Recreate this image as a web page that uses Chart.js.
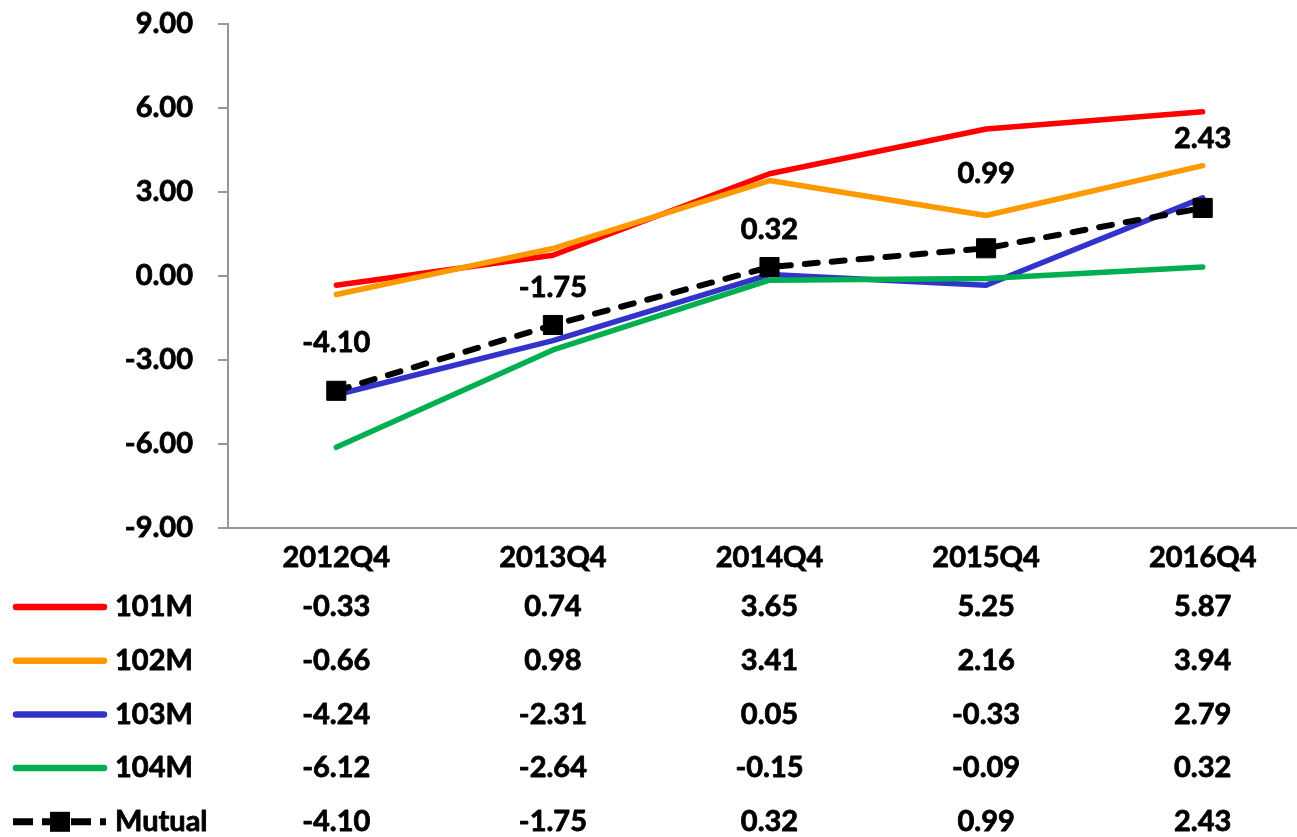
<!DOCTYPE html>
<html>
<head>
<meta charset="utf-8">
<script src="https://cdn.jsdelivr.net/npm/chart.js@4"></script>
<style>
  html, body { margin: 0; padding: 0; overflow: hidden; background: #fff; }
  canvas { display: block; }
</style>
</head>
<body>
<canvas id="chart" width="1320" height="837"></canvas>
<script>
const quarters = ['2012Q4', '2013Q4', '2014Q4', '2015Q4', '2016Q4']
const series101M = [-0.33, 0.74, 3.65, 5.25, 5.87]
const series102M = [-0.66, 0.98, 3.41, 2.16, 3.94]
const series103M = [-4.24, -2.31, 0.05, -0.33, 2.79]
const series104M = [-6.12, -2.64, -0.15, -0.09, 0.32]
const seriesMutual = [-4.10, -1.75, 0.32, 0.99, 2.43]
const yMin = -9
const yMax = 9
const yStep = 3

const FAMILY = 'Lato, "Open Sans", sans-serif'
const FONT = 'bold 29px ' + FAMILY
const AXIS_GRAY = '#969696'
// how far above each Mutual point its label sits (px)
const labelLift = [48, 37, 37, 75, 69]

const lineSet = (label, data, color, order) => ({
  label,
  data,
  borderColor: color,
  backgroundColor: color,
  borderWidth: 5.5,
  borderCapStyle: 'round',
  borderJoinStyle: 'round',
  pointRadius: 0,
  tension: 0,
  order,
})

const mutualSet = {
  label: 'Mutual',
  data: seriesMutual,
  borderColor: '#000',
  backgroundColor: '#000',
  borderWidth: 6,
  borderDash: [13, 14],
  borderCapStyle: 'round',
  pointStyle: 'rect',
  pointRadius: 13.5,
  pointBorderWidth: 1,
  pointBorderColor: '#000',
  pointBackgroundColor: '#000',
  tension: 0,
  order: 1,
}

// bold text with a hairline stroke so it reads as heavy as the original
const heavyText = (ctx, text, x, y) => {
  ctx.lineWidth = 0.8
  ctx.strokeStyle = '#000'
  ctx.lineJoin = 'round'
  ctx.strokeText(text, x, y)
  ctx.fillText(text, x, y)
}

// labels above the Mutual points
const mutualLabels = {
  id: 'mutualLabels',
  afterDatasetsDraw(chart) {
    const idx = chart.data.datasets.indexOf(mutualSet)
    const meta = chart.getDatasetMeta(idx)
    const ctx = chart.ctx
    ctx.save()
    ctx.font = FONT
    ctx.fillStyle = '#000'
    ctx.textAlign = 'center'
    ctx.textBaseline = 'middle'
    meta.data.forEach((pt, i) => {
      heavyText(ctx, seriesMutual[i].toFixed(2), pt.x, pt.y - labelLift[i])
    })
    ctx.restore()
  },
}

// data table with legend keys under the x axis
const dataTable = {
  id: 'dataTable',
  afterDraw(chart) {
    const ctx = chart.ctx
    const xs = chart.scales.x
    const rowTop = 607
    const rowStep = 53.7
    ctx.save()
    chart.data.datasets.forEach((ds, i) => {
      const y = rowTop + i * rowStep
      ctx.strokeStyle = ds.borderColor
      ctx.fillStyle = ds.borderColor
      if (ds.borderDash) {
        ctx.lineWidth = 7
        ctx.lineCap = 'butt'
        ctx.setLineDash([20, 9])
        ctx.beginPath()
        ctx.moveTo(13, y)
        ctx.lineTo(106, y)
        ctx.stroke()
        ctx.setLineDash([])
        ctx.fillRect(50, y - 10, 20, 20)
      } else {
        ctx.lineWidth = 6.5
        ctx.lineCap = 'round'
        ctx.beginPath()
        ctx.moveTo(16, y)
        ctx.lineTo(104, y)
        ctx.stroke()
      }
      ctx.font = FONT
      ctx.fillStyle = '#000'
      ctx.textBaseline = 'middle'
      ctx.textAlign = 'left'
      heavyText(ctx, ds.label, 115, y)
      ctx.textAlign = 'center'
      ds.data.forEach((v, j) => {
        heavyText(ctx, v.toFixed(2), xs.getPixelForValue(j), y)
      })
    })
    ctx.restore()
  },
}

new Chart(document.getElementById('chart'), {
  type: 'line',
  data: {
    labels: quarters,
    datasets: [
      lineSet('101M', series101M, '#FF0000', 5),
      lineSet('102M', series102M, '#FF9900', 4),
      lineSet('103M', series103M, '#3333CC', 3),
      lineSet('104M', series104M, '#00B050', 2),
      mutualSet,
    ],
  },
  options: {
    responsive: false,
    animation: false,
    events: [],
    layout: { autoPadding: false, padding: { top: 24, right: 9, left: 0, bottom: 0 } },
    plugins: {
      legend: { display: false },
      tooltip: { enabled: false },
    },
    scales: {
      x: {
        offset: true,
        grid: { drawOnChartArea: false, drawTicks: false },
        border: { color: AXIS_GRAY, width: 2 },
        ticks: {
          font: { family: FAMILY, size: 29, weight: 'bold' },
          color: '#000',
          padding: 12,
          textStrokeColor: '#000',
          textStrokeWidth: 0.8,
        },
        afterFit(scale) { scale.height = 309 },
      },
      y: {
        min: yMin,
        max: yMax,
        ticks: {
          stepSize: yStep,
          callback: (v) => v.toFixed(2),
          font: { family: FAMILY, size: 29, weight: 'bold' },
          color: '#000',
          padding: 25,
          textStrokeColor: '#000',
          textStrokeWidth: 0.8,
        },
        grid: { drawOnChartArea: false, drawTicks: true, tickLength: 10, color: AXIS_GRAY, lineWidth: 2 },
        border: { color: AXIS_GRAY, width: 2 },
        afterFit(scale) {
          scale.width = 228
          // the label gap should not push the plot down
          scale.paddingTop = 10
          scale.paddingBottom = 10
        },
      },
    },
  },
  plugins: [mutualLabels, dataTable],
})
</script>
</body>
</html>
